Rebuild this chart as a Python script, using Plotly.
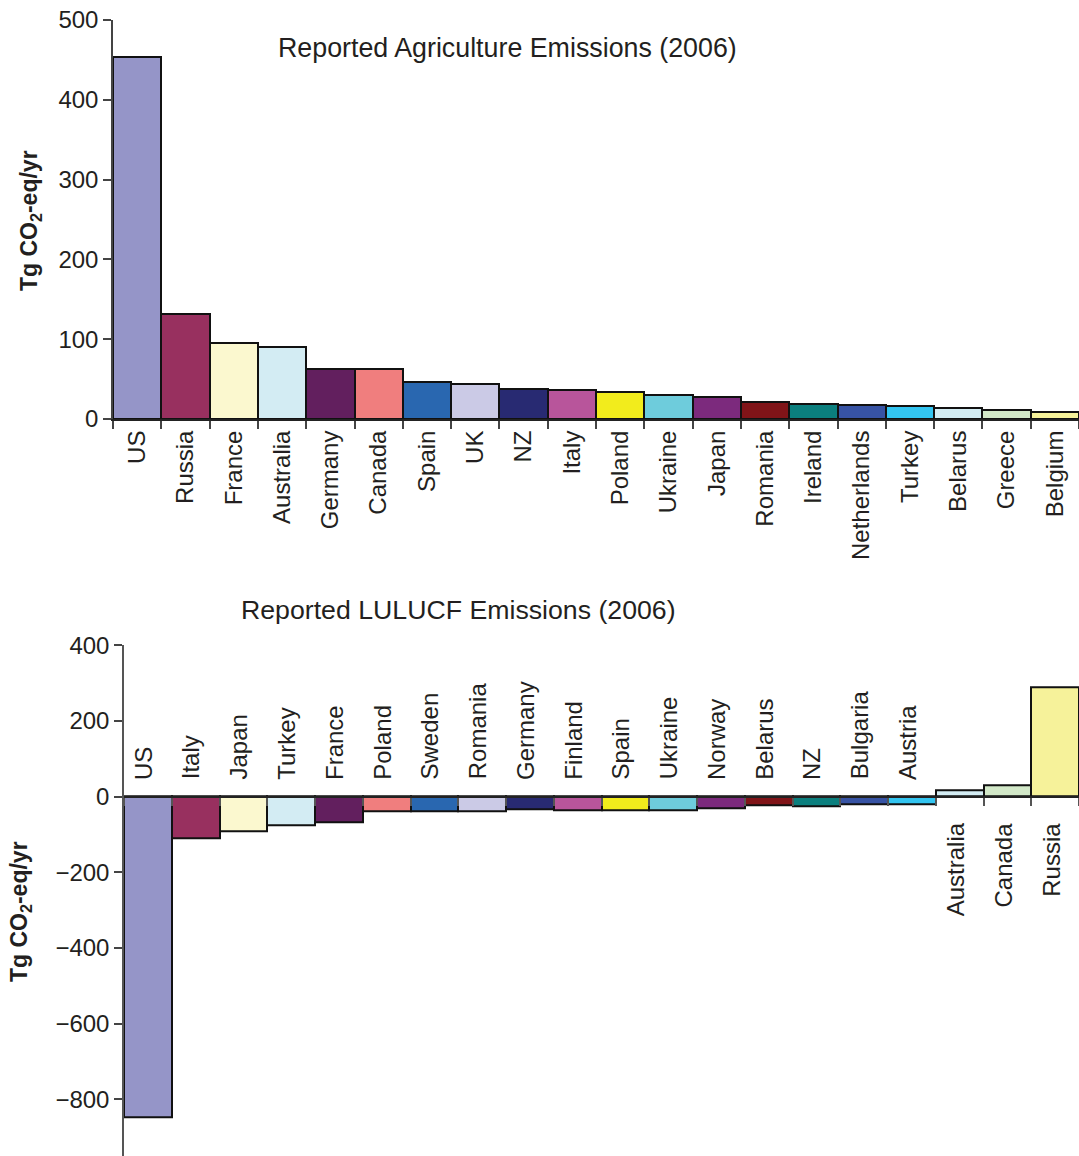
import plotly.graph_objects as go

# ---- data ----
agri_countries = ["US", "Russia", "France", "Australia", "Germany", "Canada", "Spain", "UK", "NZ",
                  "Italy", "Poland", "Ukraine", "Japan", "Romania", "Ireland", "Netherlands",
                  "Turkey", "Belarus", "Greece", "Belgium"]
agri_values = [454, 132, 95, 90, 63, 63, 46, 44, 38, 36, 34, 30, 27, 21, 19, 18, 16, 13.5, 11.3, 9.2]

lulucf_countries = ["US", "Italy", "Japan", "Turkey", "France", "Poland", "Sweden", "Romania",
                    "Germany", "Finland", "Spain", "Ukraine", "Norway", "Belarus", "NZ",
                    "Bulgaria", "Austria", "Australia", "Canada", "Russia"]
lulucf_values = [-849, -111, -91, -77, -68, -39, -39, -40, -34, -35, -35, -36, -30, -24, -26,
                 -20, -20, 16, 31, 288]

palette = ["#9595C8", "#98305F", "#FBF8CF", "#D3ECF3", "#621F5E", "#F07E7E", "#2967B0",
           "#CBCAE6", "#282A72", "#B8559B", "#F2EC1C", "#6ECCDC", "#7C2A7D", "#801418",
           "#0B7F7E", "#3753A4", "#33C5F1", "#D3ECF3", "#D2E8C8", "#F6F29A"]

W, H = 1079, 1156
FONT = "Liberation Sans, Arial, Helvetica, sans-serif"
TXT = "#231F20"

def fx(px):
    return px / W

def fy(py):
    return (H - py) / H

fig = go.Figure()

fig.add_trace(go.Bar(
    x=agri_countries, y=agri_values, marker=dict(color=palette, line=dict(color="#111", width=2)),
    xaxis="x", yaxis="y", showlegend=False, hoverinfo="x+y"))

fig.add_trace(go.Bar(
    x=lulucf_countries, y=lulucf_values, marker=dict(color=palette, line=dict(color="#111", width=2)),
    xaxis="x2", yaxis="y2", showlegend=False, hoverinfo="x+y"))

top_dom = [fy(419), fy(20)]
bot_dom = [0, fy(645.3)]
bot_range = [-950, 400]
zero_pos = bot_dom[0] + (0 - bot_range[0]) / (bot_range[1] - bot_range[0]) * (bot_dom[1] - bot_dom[0])

fig.update_layout(
    width=W, height=H,
    margin=dict(l=0, r=0, t=0, b=0, pad=0, autoexpand=False),
    paper_bgcolor="white", plot_bgcolor="white",
    bargap=0,
    font=dict(family=FONT, size=24, color=TXT),
    xaxis=dict(domain=[fx(113), 1], anchor="y", type="category", range=[-0.5, 19.5],
               showline=True, linecolor="#222", linewidth=2, ticks="outside", tickson="boundaries",
               ticklen=8, tickcolor="#444", tickwidth=1.5, tickangle=-90, showgrid=False,
               zeroline=False, automargin=False, tickfont=dict(size=24, color=TXT)),
    yaxis=dict(domain=top_dom, anchor="x", range=[0, 500], dtick=100, showline=True,
               linecolor="#444", linewidth=1.5, ticks="outside", ticklen=8, tickcolor="#444",
               tickwidth=1.5, showgrid=False, zeroline=False, automargin=False,
               tickfont=dict(size=24, color=TXT)),
    xaxis2=dict(domain=[fx(124), 1], anchor="free", position=zero_pos, type="category",
                range=[-0.5, 19.5], showline=True, linecolor="#222", linewidth=2, ticks="outside",
                tickson="boundaries", ticklen=8, tickcolor="#555", tickwidth=1.5,
                showticklabels=False, showgrid=False, zeroline=False, automargin=False),
    yaxis2=dict(domain=bot_dom, anchor="x2", range=bot_range, tickvals=[400, 200, 0, -200, -400, -600, -800],
                showline=True, linecolor="#555", linewidth=1.5, ticks="outside", ticklen=8,
                tickcolor="#444", tickwidth=1.5, showgrid=False, zeroline=False, automargin=False,
                tickfont=dict(size=24, color=TXT)),
)

annotations = [
    dict(text="Reported Agriculture Emissions (2006)", xref="paper", yref="paper",
         x=fx(507), y=fy(48), xanchor="center", yanchor="middle", showarrow=False,
         font=dict(size=26.8, color=TXT)),
    dict(text="Reported LULUCF Emissions (2006)", xref="paper", yref="paper",
         x=fx(458), y=fy(610), xanchor="center", yanchor="middle", showarrow=False,
         font=dict(size=26.7, color=TXT)),
    dict(text="<b>Tg CO<sub>2</sub>-eq/yr</b>", xref="paper", yref="paper",
         x=fx(31), y=fy(221), xanchor="center", yanchor="middle", textangle=-90, showarrow=False,
         font=dict(size=23, color=TXT)),
    dict(text="<b>Tg CO<sub>2</sub>-eq/yr</b>", xref="paper", yref="paper",
         x=fx(20), y=fy(912), xanchor="center", yanchor="middle", textangle=-90, showarrow=False,
         font=dict(size=23, color=TXT)),
]

for name, val in zip(lulucf_countries, lulucf_values):
    if val < 0:
        annotations.append(dict(text=name, xref="x2", yref="y2", x=name, y=0, xanchor="center",
                                yanchor="bottom", yshift=15, xshift=-5, textangle=-90, showarrow=False,
                                font=dict(size=24, color=TXT)))
    else:
        annotations.append(dict(text=name, xref="x2", yref="y2", x=name, y=0, xanchor="center",
                                yanchor="top", yshift=-24, xshift=-4, textangle=-90, showarrow=False,
                                font=dict(size=24, color=TXT)))

fig.update_layout(annotations=annotations)

fig.write_html(
    "out.html",
    config={"displayModeBar": False},
    post_script="document.body.style.margin='0';document.body.style.padding='0';"
                "document.body.style.overflow='hidden';",
)
